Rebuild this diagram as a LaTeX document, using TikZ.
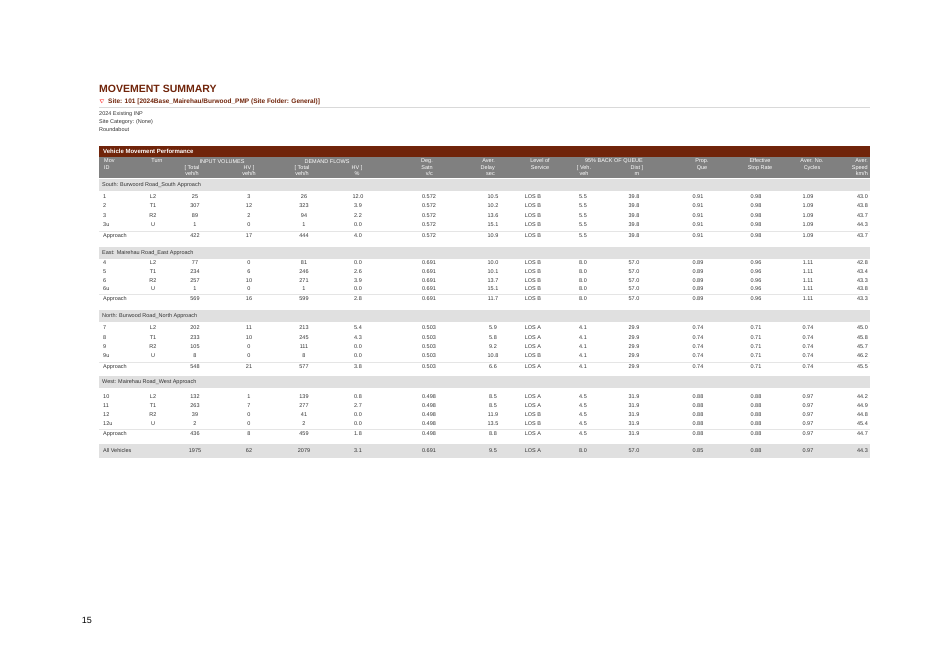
\documentclass[tikz,border=0pt]{standalone}
\usepackage{fontspec}
\setmainfont{Liberation Sans}
\definecolor{sidrabrown}{HTML}{70240A}
\definecolor{headgrey}{HTML}{808080}
\definecolor{bandgrey}{HTML}{E0E0E0}
\tikzset{
  cell/.style={inner sep=0pt, font=\fontsize{5.5}{6}\selectfont, text=black!80},
  headcell/.style={inner sep=0pt, font=\fontsize{5.5}{6.6}\selectfont, text=white, align=center},
  band/.style={fill=bandgrey, draw=none},
}
\begin{document}
\begin{tikzpicture}[x=1pt,y=-1pt]
    \useasboundingbox (0,0) rectangle (934,661);
    % title block
    \node[anchor=west, inner sep=0pt, font=\bfseries\fontsize{10.5}{12}\selectfont, text=sidrabrown] (title) at (99,89) {MOVEMENT SUMMARY};
    \node[anchor=west, inner sep=0pt, font=\fontsize{5}{6}\selectfont, text=red] (sym) at (99,102) {$\nabla$};
    \node[anchor=west, inner sep=0pt, font=\bfseries\fontsize{6.5}{7}\selectfont, text=sidrabrown] (site) at (108,102) {Site: 101 [2024Base\_Mairehau/Burwood\_PMP (Site Folder: General)]};
    \draw[black!15, line width=1pt] (99,107.5) -- (870,107.5);
    \node[cell, anchor=west] (case) at (99,114) {2024 Existing INP};
    \node[cell, anchor=west] (cat) at (99,122) {Site Category: (None)};
    \node[cell, anchor=west] (kind) at (99,129.5) {Roundabout};

    % table heading
    \fill[sidrabrown] (99,146) rectangle (870,157);
    \fill[headgrey] (99,157) rectangle (870,178);
    \node[headcell, anchor=west, font=\bfseries\fontsize{6}{7}\selectfont] (vmp) at (103,151.5) {Vehicle Movement Performance};
    \node[headcell, anchor=north west, align=left] (movid) at (104,158.5) {Mov\\ID};
    \node[headcell, anchor=north] (turn) at (157,158.5) {Turn};
    \node[headcell] (inp) at (222,161.5) {INPUT VOLUMES};
    \node[headcell] (dem) at (327,161.5) {DEMAND FLOWS};
    \node[headcell] (boq) at (614,161.5) {95\% BACK OF QUEUE};
    \foreach \x/\txt in {192/{[ Total\\veh/h}, 249/{HV ]\\veh/h}, 302/{[ Total\\veh/h}, 357/{HV ]\\\%},
                         584/{[ Veh.\\veh}, 637/{Dist ]\\m}}
      \node[headcell, anchor=north] at (\x,165) {\txt};
    \foreach \x/\txt in {433/{Deg.\\Satn\\v/c}, 495/{Aver.\\Delay\\sec}, 868/{Aver.\\Speed\\km/h}}
      \node[headcell, anchor=north east, align=right] at (\x,158.5) {\txt};
    \foreach \x/\txt in {540/{Level of\\Service}, 702/{Prop.\\Que}, 760/{Effective\\Stop Rate}, 812/{Aver. No.\\Cycles}}
      \node[headcell, anchor=north] at (\x,158.5) {\txt};

    % approach bands
    \foreach \y/\txt in {185/{South: Burwoord Road\_South Approach}, 253/{East: Mairehau Road\_East Approach},
                         316/{North: Burwood Road\_North Approach}, 382/{West: Mairehau Road\_West Approach}} {
      \fill[bandgrey] (99,\y-6) rectangle (870,\y+6);
      \node[cell, anchor=west] at (102,\y) {\txt};
    }
    \fill[bandgrey] (99,444) rectangle (870,458);
    \foreach \y in {231,294,362,429}
      \draw[black!10, line width=0.6pt] (99,\y) -- (870,\y);

    % rows
    \foreach \y/\cid/\cturn/\cit/\cih/\cdt/\cdh/\cdeg/\cdel/\clos/\cveh/\cdist/\cprop/\cstop/\ccyc/\cspd in {
      197/1/L2/25/3/26/12.0/0.572/10.5/LOS B/5.5/39.8/0.91/0.98/1.09/43.0,
      206/2/T1/307/12/323/3.9/0.572/10.2/LOS B/5.5/39.8/0.91/0.98/1.09/43.8,
      216/3/R2/89/2/94/2.2/0.572/13.6/LOS B/5.5/39.8/0.91/0.98/1.09/43.7,
      225/3u/U/1/0/1/0.0/0.572/15.1/LOS B/5.5/39.8/0.91/0.98/1.09/44.3,
      236/Approach//422/17/444/4.0/0.572/10.9/LOS B/5.5/39.8/0.91/0.98/1.09/43.7,
      263/4/L2/77/0/81/0.0/0.691/10.0/LOS B/8.0/57.0/0.89/0.96/1.11/42.8,
      272/5/T1/234/6/246/2.6/0.691/10.1/LOS B/8.0/57.0/0.89/0.96/1.11/43.4,
      281/6/R2/257/10/271/3.9/0.691/13.7/LOS B/8.0/57.0/0.89/0.96/1.11/43.3,
      289/6u/U/1/0/1/0.0/0.691/15.1/LOS B/8.0/57.0/0.89/0.96/1.11/43.8,
      299/Approach//569/16/599/2.8/0.691/11.7/LOS B/8.0/57.0/0.89/0.96/1.11/43.3,
      328/7/L2/202/11/213/5.4/0.503/5.9/LOS A/4.1/29.9/0.74/0.71/0.74/45.0,
      338/8/T1/233/10/245/4.3/0.503/5.8/LOS A/4.1/29.9/0.74/0.71/0.74/45.8,
      347/9/R2/105/0/111/0.0/0.503/9.2/LOS A/4.1/29.9/0.74/0.71/0.74/45.7,
      356/9u/U/8/0/8/0.0/0.503/10.8/LOS B/4.1/29.9/0.74/0.71/0.74/46.2,
      367/Approach//548/21/577/3.8/0.503/6.6/LOS A/4.1/29.9/0.74/0.71/0.74/45.5,
      397/10/L2/132/1/139/0.8/0.498/8.5/LOS A/4.5/31.9/0.88/0.88/0.97/44.2,
      406/11/T1/263/7/277/2.7/0.498/8.5/LOS A/4.5/31.9/0.88/0.88/0.97/44.9,
      415/12/R2/39/0/41/0.0/0.498/11.9/LOS B/4.5/31.9/0.88/0.88/0.97/44.8,
      424/12u/U/2/0/2/0.0/0.498/13.5/LOS B/4.5/31.9/0.88/0.88/0.97/45.4,
      434/Approach//436/8/459/1.8/0.498/8.8/LOS A/4.5/31.9/0.88/0.88/0.97/44.7,
      451/All Vehicles//1975/62/2079/3.1/0.691/9.5/LOS A/8.0/57.0/0.85/0.88/0.97/44.3} {
      \node[cell, anchor=west] at (103,\y) {\cid};
      \node[cell] at (153,\y) {\cturn};
      \node[cell] at (195,\y) {\cit};
      \node[cell] at (249,\y) {\cih};
      \node[cell] at (304,\y) {\cdt};
      \node[cell] at (358,\y) {\cdh};
      \node[cell] at (429,\y) {\cdeg};
      \node[cell] at (493,\y) {\cdel};
      \node[cell] at (533,\y) {\clos};
      \node[cell] at (583,\y) {\cveh};
      \node[cell] at (634,\y) {\cdist};
      \node[cell] at (698,\y) {\cprop};
      \node[cell] at (756,\y) {\cstop};
      \node[cell] at (808,\y) {\ccyc};
      \node[cell, anchor=east] at (868,\y) {\cspd};
    }

    % page number
    \node[inner sep=0pt, font=\fontsize{9}{10}\selectfont] (page) at (87,620) {15};
\end{tikzpicture}
\end{document}
